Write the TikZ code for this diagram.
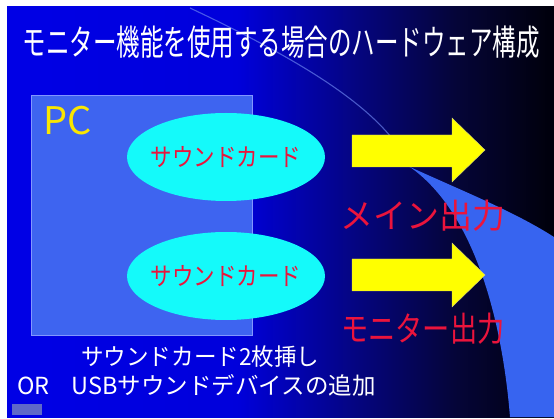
\documentclass[tikz,border=0pt]{standalone}
\usepackage{fontspec}
\newfontfamily\jp{Noto Sans CJK JP}
\usetikzlibrary{shapes.geometric}
\pgfdeclarehorizontalshading{bgshade}{100bp}{rgb(0bp)=(0,0,0.9); rgb(25bp)=(0,0,0.9); rgb(46bp)=(0,0,0.86); rgb(57bp)=(0.02,0.02,0.5); rgb(66bp)=(0.02,0.02,0.22); rgb(75bp)=(0,0,0.04); rgb(100bp)=(0,0,0.04)}
\definecolor{pcblue}{RGB}{62,100,240}
\definecolor{pcedge}{RGB}{130,150,255}
\definecolor{swoosh}{RGB}{55,100,240}
\definecolor{swooshline}{RGB}{110,135,240}
\definecolor{cardcyan}{RGB}{20,250,250}
\definecolor{cardred}{RGB}{235,20,60}
\definecolor{arrowyel}{RGB}{255,255,0}
\definecolor{arrowedge}{RGB}{210,210,120}
\definecolor{pcyel}{RGB}{250,230,0}
\definecolor{markcol}{RGB}{95,105,200}
\tikzset{
  cardbox/.style={ellipse, fill=cardcyan, minimum width=198pt, minimum height=88pt, inner sep=0pt},
  cardtext/.style={font=\jp\fontsize{25pt}{25pt}\selectfont, text=cardred, inner sep=0pt},
  outtext/.style={font=\jp\fontsize{34pt}{34pt}\selectfont, text=cardred, inner sep=0pt},
  whitetext/.style={font=\jp\fontsize{23.5pt}{23.5pt}\selectfont, text=white, inner sep=0pt},
  blockarrow/.style={fill=arrowyel, draw=arrowedge, line width=0.4pt}
}
\begin{document}
\begin{tikzpicture}[x=1pt,y=-1pt]
\useasboundingbox (0,0) rectangle (554,419);
\fill[white] (0,0) rectangle (554,419);
% background
\shade[shading=bgshade] (7,7) rectangle (554,417);
% swoosh
\fill[swoosh] (410,167) .. controls (465,192) and (515,212) .. (554,237) -- (554,417) -- (510,417)
   .. controls (503,330) and (478,215) .. (410,167) -- cycle;
\draw[line width=1.1pt, draw=swooshline, opacity=0.65]
   (190,8) .. controls (300,60) and (385,110) .. (410,167);
% title
\node[font=\jp\fontsize{23.5pt}{23.5pt}\selectfont, text=white, inner sep=0pt] (title) at (281,42)
   {\scalebox{1}[1.5]{モニター機能を使用する場合のハードウェア構成}};
% PC box
\node[draw=pcedge, line width=0.6pt, fill=pcblue, minimum width=221pt, minimum height=240pt, inner sep=0pt, anchor=north west] (pc) at (31,95) {};
\node[font=\jp\fontsize{38pt}{38pt}\selectfont, text=pcyel, inner sep=0pt, anchor=west] (pclabel) at (43,121) {PC};
% sound cards
\node[cardbox] (card1) at (226,157) {};
\node[cardtext] (card1text) at (card1.center) {\scalebox{0.86}[1]{サウンドカード}};
\node[cardbox] (card2) at (226,276) {};
\node[cardtext] (card2text) at (card2.center) {\scalebox{0.86}[1]{サウンドカード}};
% arrows
\draw[blockarrow] (352,135) -- (452,135) -- (452,118) -- (485,150) -- (452,182) -- (452,167) -- (352,167) -- cycle;
\draw[blockarrow] (352,259) -- (452,259) -- (452,243) -- (485,275) -- (452,307) -- (452,291) -- (352,291) -- cycle;
% output labels
\node[outtext, anchor=west] (mainout) at (340,216) {\scalebox{0.97}[1]{メイン出力}};
\node[outtext, anchor=west] (monout) at (341,329) {\scalebox{0.8}[1]{モニター出力}};
% bottom texts
\node[whitetext, anchor=west] (line1) at (81,357) {\scalebox{0.96}[1]{サウンドカード2枚挿し}};
\node[whitetext, anchor=west] (line2) at (17,385) {OR\hspace{22pt}USBサウンドデバイスの追加};
% small mark
\fill[markcol] (12,404) rectangle (42,415);
\end{tikzpicture}
\end{document}
